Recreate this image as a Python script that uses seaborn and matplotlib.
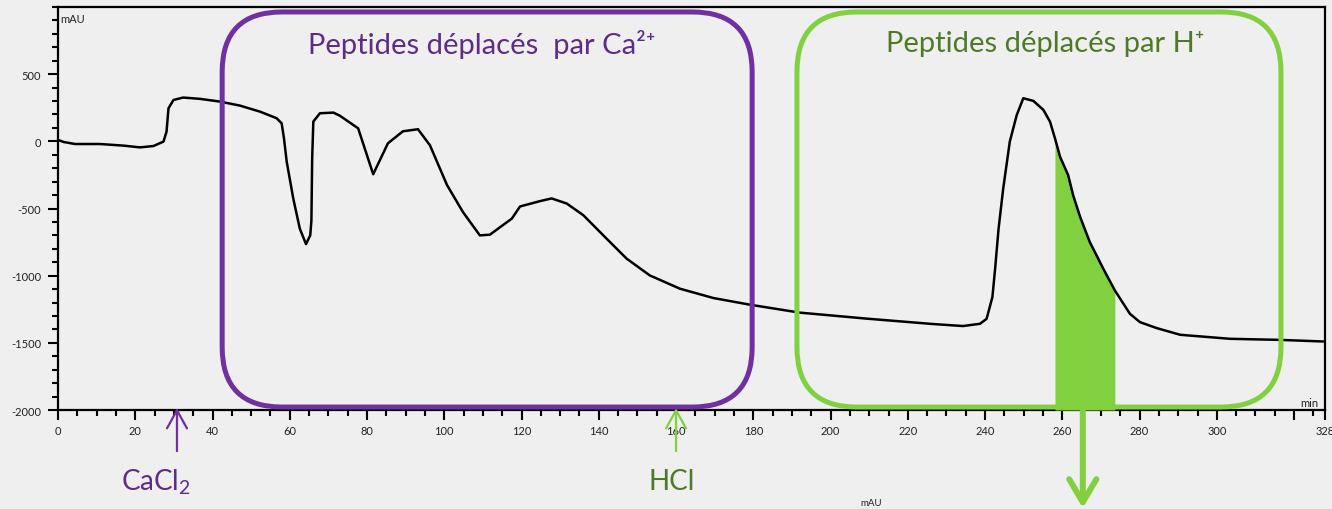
import numpy as np
import pandas as pd
import matplotlib
matplotlib.use("Agg")
import matplotlib.pyplot as plt
from matplotlib.patches import FancyBboxPatch
import seaborn as sns

# ---- data ----
time_min = [0, 1.5, 4.4, 10.9, 17.0, 21.2, 24.7, 27.3, 28.1, 28.6, 29.9, 32.4, 36.8,
            41.9, 47.1, 52.3, 56.6, 57.9, 58.5, 59.2, 60.9, 62.6, 64.2, 65.3, 65.6,
            65.8, 66.1, 67.8, 71.3, 73.0, 77.7, 81.6, 85.4, 89.3, 93.2, 96.3, 100.7,
            104.8, 109.2, 111.8, 117.5, 119.6, 122.2, 124.8, 127.8, 131.7, 136.0,
            142.0, 147.2, 153.2, 161.0, 169.6, 179.1, 192.0, 209.4, 226.5, 234.3,
            238.7, 240.4, 241.9, 242.6, 243.5, 244.7, 246.4, 248.2, 249.9, 252.5,
            255.1, 256.8, 258.1, 259.4, 261.5, 262.8, 264.6, 267.1, 270.6, 273.6,
            277.5, 280.1, 284.4, 290.5, 303.4, 316.3, 327.5]
absorbance = [10, -5, -20, -20, -32, -45, -35, -2, 72, 246, 308, 326, 316,
              296, 266, 221, 172, 134, 22, -150, -425, -650, -765, -700, -590,
              -127, 147, 209, 214, 190, 97, -245, -15, 75, 90, -30, -325,
              -525, -700, -695, -575, -485, -465, -445, -425, -463, -550,
              -724, -873, -998, -1097, -1166, -1216, -1275, -1320, -1360, -1375,
              -1358, -1321, -1159, -948, -649, -351, -2, 196, 321, 301,
              234, 147, 22, -114, -251, -401, -562, -749, -948, -1110,
              -1284, -1346, -1390, -1440, -1470, -1478, -1490]

fill_start, fill_end = 258.1, 273.6
x_ticks = [0, 20, 40, 60, 80, 100, 120, 140, 160, 180, 200, 220, 240, 260, 280, 300, 320, 328]
x_tick_labels = ["0", "20", "40", "60", "80", "100", "120", "140", "160", "180", "200",
                 "220", "240", "260", "280", "300", "", "328"]
y_ticks = [-2000, -1500, -1000, -500, 0, 500]
y_tick_labels = ["-2000", "-1500", "-1000", "-500", "0", "500"]

box_titles = ["Peptides déplacés  par Ca²⁺", "Peptides déplacés par H⁺"]
injections = ["CaCl$_\\mathregular{2}$", "HCl"]
injection_times = [30.8, 160.0]
collect_time = 265.3

PURPLE = "#7030A0"
PURPLE_TXT = "#5E2C86"
GREEN = "#80D040"
GREEN_TXT = "#4E7A28"
BG = "#efefef"

df = pd.DataFrame({"t": time_min, "a": absorbance})

sns.set_theme(style="ticks")
plt.rcParams["font.family"] = ["Lato", "DejaVu Sans"]
plt.rcParams["mathtext.fontset"] = "custom"
plt.rcParams["mathtext.rm"] = "Lato"

W, H = 1332, 510
fig = plt.figure(figsize=(W / 100, H / 100), dpi=100)
fig.patch.set_facecolor(BG)
ax = fig.add_axes([58 / W, 1 - 411 / H, (1325 - 58) / W, (411 - 8) / H])
ax.set_facecolor("none")

sns.lineplot(data=df, x="t", y="a", color="black", lw=1.8, ax=ax, zorder=4,
             solid_joinstyle="round")

t = np.array(time_min)
a = np.array(absorbance)
mask = (t >= fill_start) & (t <= fill_end)
ax.fill_between(t, a, -2000, where=mask, color=GREEN, lw=0, zorder=3)

ax.set_xlim(0, 328)
ax.set_ylim(-2000, 1000)
ax.set_xlabel("")
ax.set_ylabel("")
ax.set_xticks(x_ticks)
ax.set_xticklabels(x_tick_labels)
ax.set_xticks(np.arange(0, 329, 5), minor=True)
ax.set_yticks(y_ticks)
ax.set_yticklabels(y_tick_labels)
ax.set_yticks(np.arange(-2000, 1001, 100), minor=True)
ax.tick_params(which="major", length=7, width=1.5, direction="out", labelsize=8,
               color="black", labelcolor="#222222")
ax.tick_params(axis="x", which="major", pad=4)
ax.tick_params(axis="y", which="major", pad=5)
ax.tick_params(which="minor", length=4, width=1.5, direction="out", color="black")
for s in ax.spines.values():
    s.set_visible(True)
    s.set_linewidth(1.6)
    s.set_color("black")

ax.text(0.002, 0.985, "mAU", transform=ax.transAxes, ha="left", va="top", fontsize=8,
        color="#222222")
ax.text(0.995, 0.005, "min", transform=ax.transAxes, ha="right", va="bottom", fontsize=8,
        color="#222222")

# rounded boxes (aspect-corrected corners)
p0 = ax.transData.transform((0, 0))
p1 = ax.transData.transform((1, 1))
aspect = (p1[0] - p0[0]) / (p1[1] - p0[1])
r = 15.5
for (x0, x1), col in [((42.5, 179.7), PURPLE), ((191.3, 316.6), GREEN)]:
    box = FancyBboxPatch((x0, -1978), x1 - x0, 963 + 1978,
                         boxstyle=f"round,pad=0,rounding_size={r}",
                         mutation_aspect=aspect, transform=ax.transData,
                         fill=False, ec=col, lw=3.6, clip_on=False, zorder=5)
    ax.add_patch(box)

ax.text(109.8, 731, box_titles[0], ha="center", va="center", fontsize=21,
        color=PURPLE_TXT, zorder=6)
ax.text(255.5, 731, box_titles[1], ha="center", va="center", fontsize=21,
        color=GREEN_TXT, zorder=6)

# injection arrows
for tx, col, tcol, lab in zip(injection_times, [PURPLE, GREEN], [PURPLE_TXT, GREEN_TXT],
                              injections):
    ax.annotate("", xy=(tx, -1985), xytext=(tx, -2306), xycoords="data",
                arrowprops=dict(arrowstyle="->,head_length=0.65,head_width=0.36",
                                color=col, lw=1.6, shrinkA=0, shrinkB=0,
                                mutation_scale=20),
                annotation_clip=False)
    ax.text(tx - 1.0 if lab == "HCl" else tx - 5.5, -2530, lab, ha="center", va="center",
            fontsize=20, color=tcol, clip_on=False)

# collection arrow
ax.annotate("", xy=(collect_time, -2730), xytext=(collect_time, -2000), xycoords="data",
            arrowprops=dict(arrowstyle="->,head_length=0.83,head_width=0.49",
                            color=GREEN, lw=4.3, shrinkA=0, shrinkB=0,
                            mutation_scale=20),
            annotation_clip=False)

ax.text(207.6, -2720, "mAU", ha="left", va="bottom", fontsize=7, color="#222222",
        clip_on=False)

fig.savefig("out.png", dpi=100, facecolor=BG)
